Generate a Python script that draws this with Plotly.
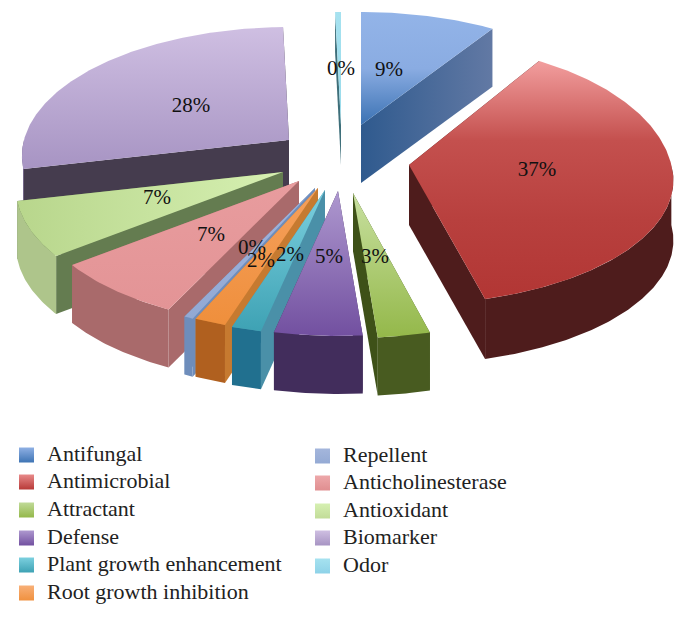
import math
import plotly.graph_objects as go

categories = ["Antifungal", "Antimicrobial", "Attractant", "Defense", "Plant growth enhancement",
              "Root growth inhibition", "Repellent", "Anticholinesterase", "Antioxidant", "Biomarker", "Odor"]
values = [9.2, 36.6, 2.8, 4.7, 1.6, 1.7, 0.49, 7.31, 6.9, 28.1, 0.4]

# layout of the exploded slices: pixel position of each slice tip
tips = [(361, 125), (409, 165), (353, 193), (338, 191), (325, 190), (318, 188), (315, 188),
        (299, 181), (283, 172), (289, 140), (341, 125)]
# per-slice radius corrections: (x, back half y, front half y)
radius_scale = [(1, 1, 1), (0.99, 1.08, 0.96), (1, 1, 1), (1, 1, 1), (1, 1, 1), (1, 1, 1), (1, 1, 1),
                (1, 1, 1), (1, 1, 1), (1, 1, 1), (1, 1, 1)]
walls = [58, 60, 58, 58, 58, 58, 58, 58, 58, 58, 40]
label_xy = [(389, 71), (537, 171), (375, 258), (329, 258), (290, 256), (261, 262), (252, 249),
            (211, 236), (157, 199), (191, 107), (341, 70)]
legend_xy = [(19, 455, 47), (19, 482, 47), (19, 510, 47), (19, 538, 47), (19, 565, 47), (19, 593, 47),
             (315, 456, 343), (315, 483, 343), (315, 511, 343), (315, 538, 343), (315, 566, 343)]
top_colors = [("#93B4E8", "#8AACE2", "#3B72B3"), ("#F29E9E", "#C4504E", "#B8403E", "#B23634"),
              ("#C8E0A0", "#94B84A"), ("#AE98CF", "#7250A0"),
              ("#7CD0DF", "#3EA2B4"), ("#F5A05C", "#EF8F3C"), ("#A0B4DC", "#92A9D4"), ("#E89C9E", "#E39496"),
              ("#B8D68C", "#D6F0B2"), ("#CFBFE2", "#A794C3"), ("#A6E2F0", "#98DAEA")]
top_kinds = ["vertical"] * 8 + ["horizontal"] + ["vertical"] * 2
outer_colors = ["#6279A4", "#4E1C1C", "#485B20", "#422D5C", "#21708F", "#B0601F", "#6E8DBB", "#A96A6B",
                "#AEC58B", "#6F5F88", "#7FB8C8"]
face_colors = [("#2F5A8E", "#6279A4"), ("#4E1C1C", "#4E1C1C"), ("#3E5118", "#3E5118"), ("#422D5C", "#422D5C"),
               ("#4A90A8", "#4A90A8"), ("#C67A30", "#C67A30"), ("#6E8DBB", "#6E8DBB"), ("#A96A6B", "#A96A6B"),
               ("#647C50", "#647C50"), ("#453C4E", "#453C4E"), ("#3E6F7A", "#3E6F7A")]
legend_colors = [("#8FB0E4", "#3E74B4"), ("#E88A8A", "#B83A38"), ("#C0DA98", "#94B84A"), ("#AE98CF", "#7250A0"),
                 ("#7CD0DF", "#3EA2B4"), ("#F8B078", "#F0913F"), ("#A4B6DC", "#94AAD4"), ("#EDA8AA", "#E08E90"),
                 ("#D6F0B2", "#C2DC98"), ("#CFBFE2", "#A794C3"), ("#A6E2F0", "#8ED2E8")]
draw_order = [9, 0, 10, 1, 8, 7, 6, 5, 4, 2, 3]
RX, RY, K = 265, 127, 0.124
SWATCH = 15

fig = go.Figure()


def rim(i, theta):
    t = math.radians(theta)
    c = math.cos(t)
    s = 1 / (1 + K * c)
    sx, sback, sfront = radius_scale[i]
    sy = sback if c > 0 else sfront
    return tips[i][0] + RX * sx * math.sin(t) * s, tips[i][1] - RY * sy * c * s


def poly(pts, colors, kind, name=None):
    xs = [p[0] for p in pts] + [pts[0][0]]
    ys = [p[1] for p in pts] + [pts[0][1]]
    ordered = list(colors)[::-1] if kind == "vertical" else list(colors)
    scale = [[j / (len(ordered) - 1), c] for j, c in enumerate(ordered)]
    fig.add_trace(go.Scatter(x=xs, y=ys, mode="lines", line=dict(width=0), fill="toself",
                             hoverinfo="skip" if name is None else "name", name=name,
                             fillgradient=dict(type=kind, colorscale=scale), showlegend=False))


def arc_points(i, a, b):
    n = max(2, int((b - a) * 1.5))
    return [rim(i, a + (b - a) * j / n) for j in range(n + 1)]


total = sum(values)
bounds = [0]
for v in values:
    bounds.append(bounds[-1] + v / total * 360)

for i in draw_order:
    a, b = bounds[i], bounds[i + 1]
    arc = arc_points(i, a, b)
    h = walls[i]
    tip = tips[i]
    tip_low = (tip[0], tip[1] + h)
    p0, p1 = arc[0], arc[-1]
    faces = [[tip, p0, (p0[0], p0[1] + h), tip_low], [tip, p1, (p1[0], p1[1] + h), tip_low]]
    faces.sort(key=lambda f: sum(p[1] for p in f))
    for f in faces:
        poly(f, face_colors[i], "horizontal")
    # only the front half of the rim faces the viewer
    fa, fb = max(a, 90), min(b, 270)
    if fb > fa:
        front = arc_points(i, fa, fb)
        poly(front + [(x, y + h) for x, y in front[::-1]], (outer_colors[i], outer_colors[i]), "horizontal")
    poly([tip] + arc, top_colors[i], top_kinds[i], categories[i])

labels = [f"{round(v)}%" for v in values]
fig.add_trace(go.Scatter(x=[p[0] for p in label_xy], y=[p[1] for p in label_xy], text=labels, mode="text",
                         textposition="middle center", hoverinfo="skip", showlegend=False,
                         textfont=dict(family="Liberation Serif", size=21, color="#111")))

# two-column key: gradient swatch plus real text for each category
for i, (sx, sy, _) in enumerate(legend_xy):
    half = SWATCH / 2
    poly([(sx, sy - half), (sx + SWATCH, sy - half), (sx + SWATCH, sy + half), (sx, sy + half)],
         legend_colors[i], "vertical")
fig.add_trace(go.Scatter(x=[p[2] for p in legend_xy], y=[p[1] for p in legend_xy], text=categories, mode="text",
                         textposition="middle right", hoverinfo="skip", showlegend=False,
                         textfont=dict(family="Liberation Serif", size=22, color="#222")))

fig.update_layout(
    width=688, height=618, margin=dict(l=0, r=0, t=0, b=0), paper_bgcolor="white", plot_bgcolor="white",
    showlegend=False,
    xaxis=dict(range=[0, 688], visible=False, fixedrange=True),
    yaxis=dict(range=[618, 0], visible=False, fixedrange=True),
)
fig.write_html("out.html", config=dict(displayModeBar=False),
               post_script="document.body.style.margin='0';document.documentElement.style.overflow='hidden';")
